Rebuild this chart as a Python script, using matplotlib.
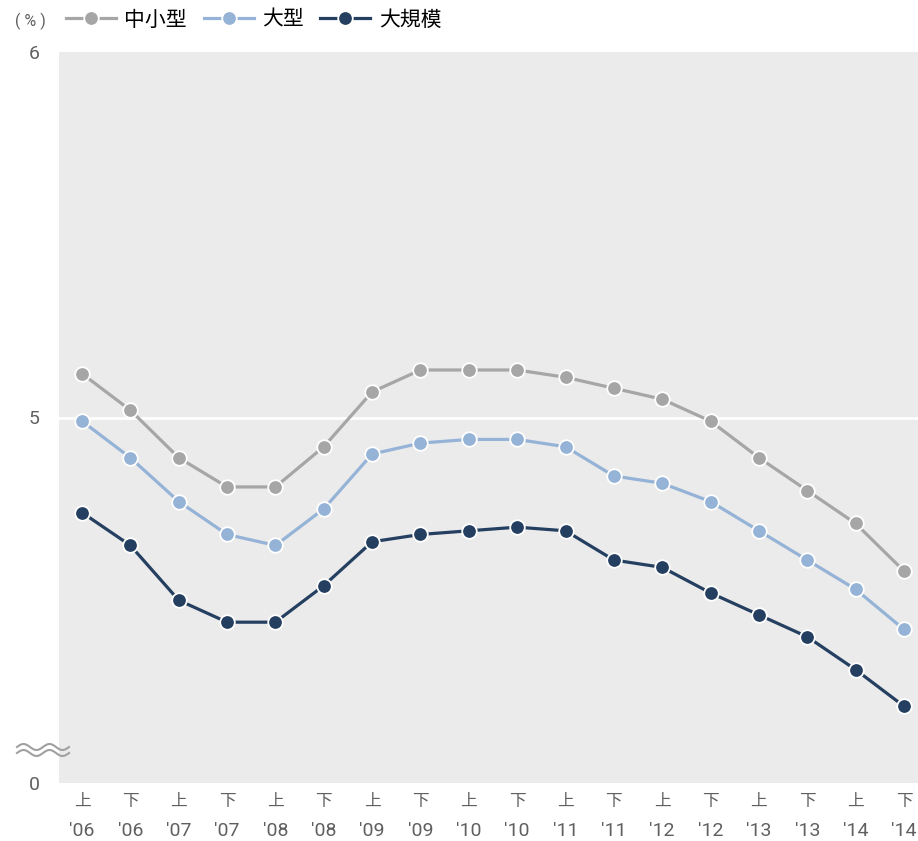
import numpy as np
import matplotlib
matplotlib.use('Agg')
from matplotlib import pyplot as plt
from matplotlib.lines import Line2D
import matplotlib.transforms as mtransforms

plt.rcParams['font.family'] = ['Roboto', 'Noto Sans CJK JP', 'DejaVu Sans']

# Data (axis is broken: the bottom edge stands for 0, linear scale from 4 upward)
halves = ['上', '下'] * 9
years = ["'06", "'06", "'07", "'07", "'08", "'08", "'09", "'09", "'10", "'10",
         "'11", "'11", "'12", "'12", "'13", "'13", "'14", "'14"]

small_mid = [5.12, 5.02, 4.89, 4.81, 4.81, 4.92, 5.07, 5.13, 5.13, 5.13,
             5.11, 5.08, 5.05, 4.99, 4.89, 4.80, 4.71, 4.58]
large = [4.99, 4.89, 4.77, 4.68, 4.65, 4.75, 4.90, 4.93, 4.94, 4.94,
         4.92, 4.84, 4.82, 4.77, 4.69, 4.61, 4.53, 4.42]
very_large = [4.74, 4.65, 4.50, 4.44, 4.44, 4.54, 4.66, 4.68, 4.69, 4.70,
              4.69, 4.61, 4.59, 4.52, 4.46, 4.40, 4.31, 4.21]

series_names = ['中小型', '大型', '大規模']
series_colors = ['#A6A6A6', '#95B3D7', '#243F60']

fig = plt.figure(figsize=(9.18, 8.41), dpi=100)
ax = fig.add_axes([59 / 918, 1 - 783 / 841, 1 - 59 / 918, (783 - 52) / 841])
ax.set_facecolor('#EBEBEB')

x = np.arange(len(halves))
handles = []
for vals, name, col in zip([small_mid, large, very_large], series_names, series_colors):
    h, = ax.plot(x, vals, color=col, lw=2.3, marker='o', ms=10.5, mfc=col,
                 mec='white', mew=1.3, label=name, clip_on=False, zorder=3)
    handles.append(h)

ax.axhline(5, color='white', lw=2, zorder=1)

ax.set_xlim(-0.476, 17.29)
ax.set_ylim(4, 6)
ax.set_yticks([4, 5, 6])
ax.set_yticklabels(['0', '5', '6'])
ax.set_xticks(x)
ax.set_xticklabels(halves)
ax.tick_params(axis='both', length=0, colors='#606060')
ax.tick_params(axis='y', pad=14, labelsize=14)
ax.tick_params(axis='x', pad=8, labelsize=12)
for s in ax.spines.values():
    s.set_visible(False)

# second row of x labels: years
trans = mtransforms.blended_transform_factory(ax.transData, ax.transAxes)
for xi, yr in zip(x, years):
    ax.text(xi, -48 / 731, yr, transform=trans, ha='center', va='center',
            fontsize=14, color='#606060')

# axis break mark
t = np.linspace(0, 1, 100)
for off in (0, 6):
    fig.add_artist(Line2D(17 / 918 + t * 52 / 918,
                          1 - (747 + off) / 841 + np.sin(t * 4 * np.pi) * 3 / 841,
                          color='#A0A0A0', lw=1.5))

fig.text(15 / 918, 1 - 21 / 841, '( % )', fontsize=11.5, color='#606060', va='center')
fig.legend(handles=handles, loc='center left', bbox_to_anchor=(66 / 918, 1 - 20 / 841),
           ncol=3, frameon=False, fontsize=15, handlelength=2.4, columnspacing=0.8,
           handletextpad=0.4, borderaxespad=0, borderpad=0)

fig.savefig('out.png', dpi=100)
